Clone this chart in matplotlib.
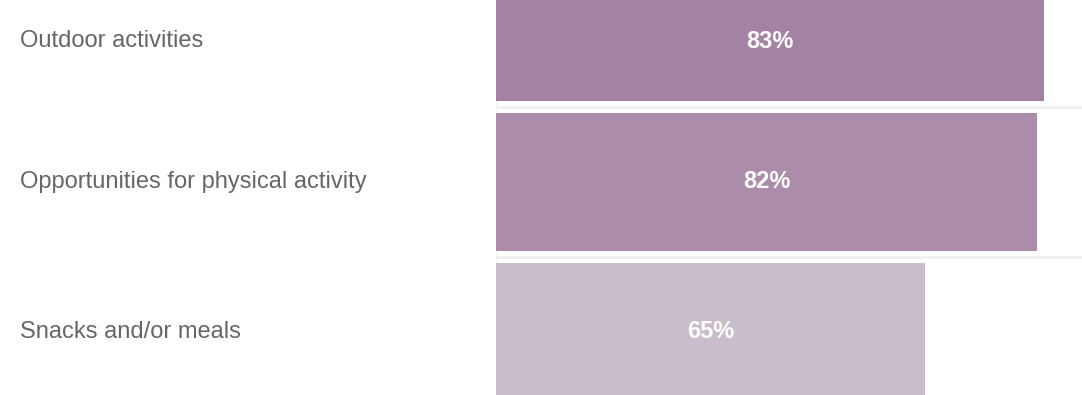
import matplotlib.pyplot as plt
from matplotlib.transforms import blended_transform_factory

categories = ['Outdoor activities', 'Opportunities for physical activity', 'Snacks and/or meals']
values = [83, 82, 65]
bar_colors = ['#a482a3', '#ad8baa', '#c9bdcb']

W, H = 1082, 395
fig = plt.figure(figsize=(W / 100, H / 100), dpi=100)
left = 496 / W
ax = fig.add_axes([left, 0, 1 - left, 1])

y = list(range(len(categories)))
ax.barh(y, values, height=0.92, color=bar_colors, zorder=2)

# rows are 150px apart; the first row is partly scrolled off the top
ax.set_xlim(0, (W - 496) / 6.6)
ax.set_ylim(1 + (H - 182) / 150, -32 / 150)

for i in range(len(categories) - 1):
    ax.axhline(i + 0.5, color='#f0f0f0', lw=2, zorder=1)
ax.axvline(0, color='#f3f3f3', lw=1, zorder=1)

# first row's text sits a bit lower, in the visible part of its bar
offsets = [0.06, 0, 0]

for yi, v, off in zip(y, values, offsets):
    ax.text(v / 2, yi + off, f'{v}%', ha='center', va='center',
            color='white', fontsize=17, fontweight='bold', family='Liberation Sans')

trans = blended_transform_factory(fig.transFigure, ax.transData)
for yi, cat, off in zip(y, categories, offsets):
    ax.text(20 / W, yi + off, cat, transform=trans, ha='left', va='center',
            color='#666666', fontsize=17, family='Liberation Sans', clip_on=False)

ax.axis('off')
fig.savefig('out.png', dpi=100, facecolor='white')
